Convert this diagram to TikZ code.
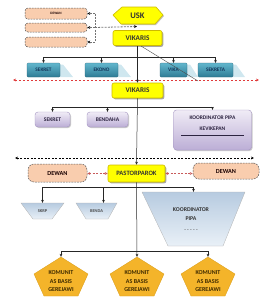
\documentclass[tikz,border=0pt]{standalone}
\usepackage{fontspec}
\setmainfont{Carlito}
\usetikzlibrary{arrows.meta,shadows}
\definecolor{yel}{HTML}{FFFF00}
\definecolor{yelb}{HTML}{CDBA00}
\definecolor{teala}{HTML}{62B6CD}
\definecolor{tealb}{HTML}{2E7C95}
\definecolor{tealsh}{HTML}{CFE7EF}
\definecolor{tealtx}{HTML}{14365A}
\definecolor{pura}{HTML}{F0ECF6}
\definecolor{purb}{HTML}{BCAED6}
\definecolor{purd}{HTML}{A394C0}
\definecolor{purtx}{HTML}{2C2340}
\definecolor{peach}{HTML}{F9CDAE}
\definecolor{gold}{HTML}{F4B42A}
\definecolor{goldb}{HTML}{D99C16}
\definecolor{goldtx}{HTML}{3E2A00}
\definecolor{tra}{HTML}{B7CBE0}
\definecolor{trb}{HTML}{E9F0F7}
\definecolor{redd}{HTML}{E03A3A}
\definecolor{redl}{HTML}{C85A5A}
\newcommand{\fs}[1]{\bfseries\fontsize{#1}{#1}\selectfont}
\tikzset{
  ybox/.style={draw=yelb, line width=0.6pt, fill=yel, rounded corners=2pt, inner sep=0pt,
    drop shadow={shadow xshift=1.3pt, shadow yshift=-1.3pt, fill=black!50, opacity=0.7},
    text=black!80, font=\fs{7.2}},
  tbox/.style={draw=tealb!80!black, line width=0.3pt, top color=teala, bottom color=tealb,
    rounded corners=1pt, inner sep=0pt, text=tealtx, font=\fs{5.3}},
  pbox/.style={draw=purd, line width=0.4pt, top color=pura, bottom color=purb,
    rounded corners=3pt, inner sep=0pt, text=purtx, font=\fs{5.6},
    drop shadow={shadow xshift=1pt, shadow yshift=-1pt, fill=black!35, opacity=0.6}},
  dbox/.style={draw=black!65, line width=0.5pt, dash pattern=on 1.8pt off 1pt, fill=peach,
    inner sep=0pt, text=black!75!red!40!black, font=\fs{6.2}},
  shp/.style={inner sep=0pt, align=center},
  ln/.style={line width=0.5pt, draw=black!85},
  arr/.style={ln, -{Stealth[length=3pt,width=2.8pt]}},
  gdash/.style={line width=0.8pt, draw=black!55, dash pattern=on 2pt off 1.2pt},
  kdash/.style={line width=0.6pt, draw=black, dash pattern=on 2pt off 1.5pt,
    {Stealth[length=3pt,width=2.8pt]}-{Stealth[length=3pt,width=2.8pt]}},
  rdash/.style={line width=0.7pt, draw=redd, dash pattern=on 2.5pt off 1.5pt,
    {Stealth[length=3pt,width=2.8pt]}-{Stealth[length=3pt,width=2.8pt]}},
  rldash/.style={line width=0.6pt, draw=redl, dash pattern=on 2pt off 1.5pt,
    {Stealth[length=3pt,width=2.8pt]}-{Stealth[length=3pt,width=2.8pt]}},
  tipk/.style={-{Stealth[length=3pt,width=2.8pt,black]}},
  trap/.style={draw=black!30, line width=0.3pt, top color=tra, bottom color=trb},
  pent/.style={draw=goldb, line width=0.3pt, fill=gold},
}
\begin{document}
\begin{tikzpicture}[x=1pt,y=-1pt]
\useasboundingbox (0,0) rectangle (273,300);

% ---------- top-left DEWAN boxes ----------
\node[dbox, rounded corners=3pt, minimum width=62pt, minimum height=11pt, font=\fs{3.4}] (d1) at (56,13.5) {DEWAN};
\node[dbox, rounded corners=3pt, minimum width=62pt, minimum height=9pt] (d2) at (56,27.5) {};
\node[dbox, rounded corners=3pt, minimum width=62pt, minimum height=10pt] (d3) at (56,42) {};

% ---------- USK ----------
\draw[fill=yel, draw=yelb, line width=0.6pt, drop shadow={shadow xshift=1pt, shadow yshift=-1pt, fill=black!40, opacity=0.6}]
  (113,15) -- (122,7) -- (156,7) -- (163,15) -- (155,24) -- (121,24) -- cycle;
\node[shp, font=\fs{8.5}, text=black!80, minimum width=50pt, minimum height=17pt] (usk) at (137.5,15.5) {USK};

\node[ybox, minimum width=49pt, minimum height=15pt] (vik1) at (137.5,38) {VIKARIS};

% dashed links to DEWAN boxes
\coordinate (vt) at (95,13.5);
\coordinate (vm) at (95,27.5);
\coordinate (vb) at (95,42);
\coordinate (uj) at (137,26.5);
\draw[gdash] (vt) -- (vb);
\draw[gdash, tipk] (vm -| vt) -- (uj);
\draw[gdash, tipk] (vt) -- (d1.east);
\draw[gdash, tipk] (vm) -- (d2.east);
\draw[gdash, tipk] (vb) -- (d3.east);

% ---------- teal row ----------
\fill[tealsh] (58,64.5) -- (63,64.5) -- (73,77) -- (58,77) -- cycle;
\fill[tealsh] (116,64.5) -- (121,64.5) -- (131,77) -- (116,77) -- cycle;
\fill[tealsh] (185,64.5) -- (190,64.5) -- (198,77) -- (185,77) -- cycle;
\fill[tealsh] (231,64.5) -- (236,64.5) -- (245,77) -- (231,77) -- cycle;
\node[tbox, minimum width=33pt, minimum height=14pt] (t1) at (43.5,70) {SEKRET};
\node[tbox, minimum width=33pt, minimum height=14pt] (t2) at (101.5,70) {EKONO};
\node[tbox, minimum width=27pt, minimum height=14pt] (t3) at (173.5,70) {VIKA};
\node[tbox, minimum width=35pt, minimum height=14pt] (t4) at (215.5,70) {SEKRETA};

\coordinate (h1a) at (43.5,57);
\coordinate (h1b) at (101.5,57);
\coordinate (h1c) at (173.5,57);
\coordinate (h1d) at (215.5,57);
\draw[ln] (h1a) -- (h1d);
\draw[arr] (h1a) -- (t1.north);
\draw[arr] (h1b) -- (t2.north);
\draw[arr] (h1c) -- (t3.north);
\draw[arr] (h1d) -- (t4.north);

% red dashed line
\coordinate (rl) at (13,80);
\coordinate (rr) at (259,80);
\draw[rdash] (rl) -- (rr);

% diagonal stray line
\coordinate (dg1) at (141,46);
\coordinate (dg2) at (198,81);
\draw[ln, line width=0.4pt, draw=black!70] (dg1) -- (dg2);

\node[ybox, minimum width=51pt, minimum height=15pt] (vik2) at (137.5,90.5) {VIKARIS};
\draw[arr] (vik1.south) -- (vik2.north);

% ---------- purple row ----------
\node[pbox, minimum width=35pt, minimum height=15pt] (p1) at (52.5,119.5) {SEKRET};
\node[pbox, minimum width=41pt, minimum height=15pt] (p2) at (107.5,119.5) {BENDAHA};
\node[pbox, minimum width=78pt, minimum height=40pt] (p3) at (212.5,130) {};
\node[shp, font=\fs{5.5}, text=purtx] (p3a) at (212.5,118) {KOORDINATOR PIPA};
\node[shp, font=\fs{5.5}, text=purtx] (p3b) at (212.5,128.5) {KEVIKEPAN};
\draw[line width=0.5pt, draw=purtx] (181,135) -- (244,135);

\coordinate (h2a) at (52.5,107);
\coordinate (h2b) at (107.5,107);
\coordinate (h2c) at (212.5,107);
\draw[ln] (h2a) -- (h2c);
\draw[arr] (h2a) -- (p1.north);
\draw[arr] (h2b) -- (p2.north);
\draw[arr] (h2c) -- (p3.north);

% black dashed line
\coordinate (kl) at (15,158);
\coordinate (kr) at (254,158);
\draw[kdash] (kl) -- (kr);

% ---------- PASTORPAROK row ----------
\node[dbox, rounded corners=6pt, minimum width=59pt, minimum height=18pt] (dw1) at (57.5,173) {DEWAN};
\node[dbox, rounded corners=6pt, minimum width=66pt, minimum height=16pt] (dw2) at (226,171) {DEWAN};
\node[ybox, font=\fs{6.6}, minimum width=57pt, minimum height=17pt] (past) at (136.5,173.5) {PASTORPAROK};
\draw[arr] (vik2.south) -- (past.north);
\draw[rldash] (dw1.east |- past.west) -- (past.west);
\draw[rldash] (past.east) -- (past.east -| dw2.west);

% ---------- trapezoids ----------
\draw[trap] (21,203) -- (64,203) -- (52,219) -- (33,219) -- cycle;
\draw[trap] (76,203) -- (117,203) -- (108,219) -- (86,219) -- cycle;
\draw[trap] (142,192) -- (245,192) -- (223,246) -- (168,246) -- cycle;
\node[shp, font=\fs{4.4}, text=black!70, minimum width=43pt, minimum height=16pt] (tr1) at (42.5,211) {SKRP};
\node[shp, font=\fs{4.4}, text=black!70, minimum width=41pt, minimum height=16pt] (tr2) at (96.5,211) {BENDA};
\node[shp, minimum width=103pt, minimum height=54pt] (tr3) at (193.5,219) {};
\node[shp, font=\fs{5.8}, text=black!80] (tr3a) at (191,210) {KOORDINATOR};
\node[shp, font=\fs{5.8}, text=black!80] (tr3b) at (191,218.5) {PIPA};
\node[shp, font=\fs{5.5}, text=black!60] (tr3c) at (191,231) {- - - - -};

\coordinate (h3a) at (42.5,187);
\coordinate (h3b) at (103.5,187);
\coordinate (h3c) at (193.5,187);
\draw[ln] (h3a) -- (h3c);
\draw[arr] (h3a) -- (tr1.north);
\draw[arr] (h3b) -- (h3b |- tr2.north);
\draw[arr] (h3c) -- (tr3.north);

% ---------- pentagons ----------
\draw[pent] (61,257) -- (88,274) -- (78,296) -- (44,296) -- (34,274) -- cycle;
\draw[pent] (137,257) -- (164,274) -- (154,296) -- (120,296) -- (110,274) -- cycle;
\draw[pent] (208,257) -- (235,274) -- (225,296) -- (191,296) -- (181,274) -- cycle;
\node[shp, minimum width=54pt, minimum height=39pt] (k1) at (61,276.5) {};
\node[shp, minimum width=54pt, minimum height=39pt] (k2) at (137,276.5) {};
\node[shp, minimum width=54pt, minimum height=39pt] (k3) at (208,276.5) {};
\foreach \n/\x in {k1t/61,k2t/137,k3t/208}{
  \node[shp, font=\fs{6}, text=goldtx] (\n a) at (\x,272.5) {KOMUNIT};
  \node[shp, font=\fs{6}, text=goldtx] (\n b) at (\x,281.5) {AS BASIS};
  \node[shp, font=\fs{6}, text=goldtx] (\n c) at (\x,290) {GEREJAWI};
}
\coordinate (h4a) at (61,251);
\coordinate (h4c) at (208,251);
\draw[ln] (h4a) -- (h4c);
\draw[arr] (past.south) -- (k2.north);
\draw[arr] (h4a) -- (k1.north);
\draw[arr] (h4c) -- (k3.north);
\end{tikzpicture}
\end{document}
